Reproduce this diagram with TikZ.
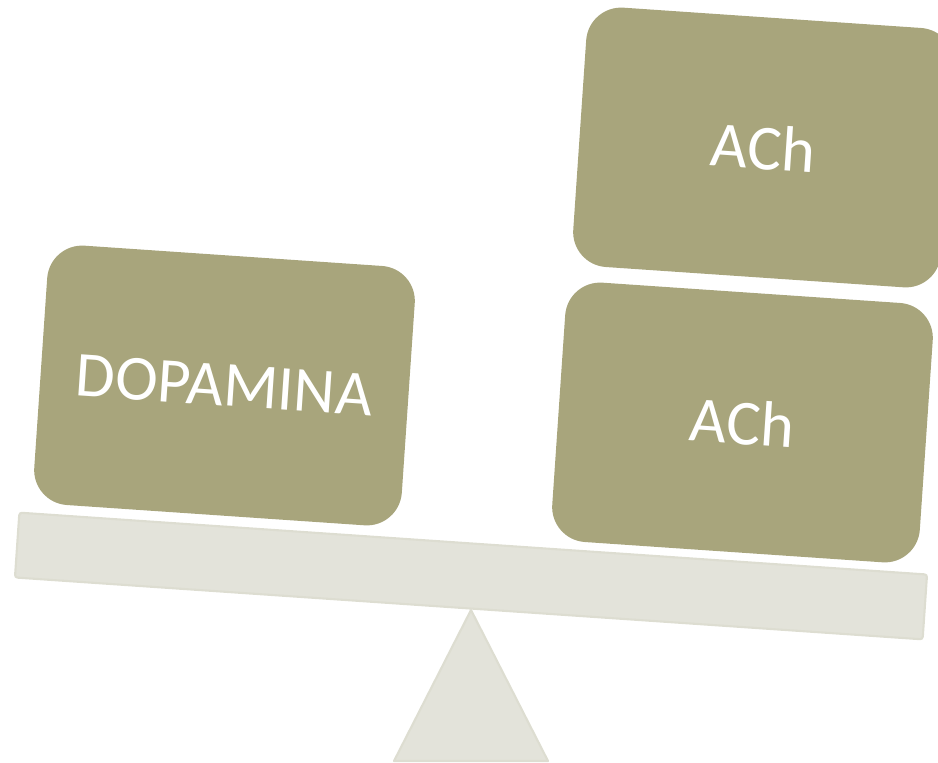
\documentclass[tikz,border=0pt]{standalone}
\usepackage{fontspec}
\setmainfont{Carlito}
\usepackage{tikz}
\usetikzlibrary{positioning,calc}
\definecolor{boxolive}{HTML}{A8A57C}
\definecolor{beamgrey}{HTML}{E3E3DA}
\definecolor{beamedge}{HTML}{DDDDD1}
\newcommand{\wnode}[3]{\node [weight] (#1) at (#2) {#3}}

\begin{document}
\begin{tikzpicture}[x=0.02cm, y=-0.02cm,
  weight/.style={rectangle, rounded corners=0.7cm, fill=boxolive, text=white,
    minimum width=7.37cm, minimum height=5.2cm, rotate=-3.9,
    font=\fontsize{36.5}{44}\selectfont},
  beam/.style={rectangle, rounded corners=1.5pt, fill=beamgrey, draw=beamedge,
    line width=1.2pt, minimum width=18.2cm, minimum height=1.3cm, rotate=-3.9}]

\useasboundingbox (0,0) rectangle (938,763);
\clip (0,0) rectangle (938,763);

\coordinate (TOP) at (471,610);
\coordinate (BL) at (394,761);
\coordinate (BR) at (548,761);
\filldraw[fill=beamgrey, draw=beamedge, line width=1.2pt, line join=round] (TOP) -- (BL) -- (BR) -- cycle;

\node [beam] (BEAM) at (471,576) {};

\wnode{DOPA}{224.5,385.5}{DOPAMINA};
\wnode{ACH1}{742.5,422.5}{ACh};
\wnode{ACH2}{763.5,147.5}{ACh};

\end{tikzpicture}
\end{document}
